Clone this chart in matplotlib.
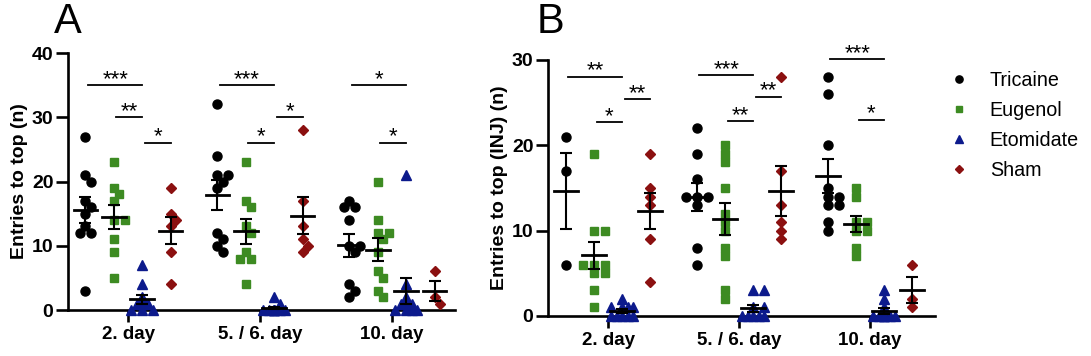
import numpy as np
import matplotlib
matplotlib.use("Agg")
from matplotlib import pyplot as plt

plt.rcParams['font.family'] = ['Liberation Sans', 'DejaVu Sans']

days = ["2. day", "5. / 6. day", "10. day"]
groups = ["Tricaine", "Eugenol", "Etomidate", "Sham"]
colors = ["black", "#3d8b22", "#0c1a8c", "#8b1010"]
markers = ["o", "s", "^", "D"]
msizes = [6.5, 5.8, 7.0, 4.6]

# panel A: entries to top (n), [day][group]
dataA = [
    [[27, 21, 20, 17, 16, 15, 13, 12, 12, 3],
     [23, 19, 18, 17, 14, 14, 11, 9, 5],
     [7, 4, 2, 1, 1, 1, 1, 0, 0, 0],
     [19, 15, 14, 13, 9, 4]],
    [[32, 24, 21, 21, 20, 19, 12, 11, 10, 9],
     [23, 17, 16, 13, 12, 9, 8, 8, 4],
     [2, 1, 0, 0, 0, 0, 0, 0, 0, 0],
     [28, 17, 13, 11, 10, 9]],
    [[17, 16, 16, 14, 10, 10, 9, 4, 3, 2],
     [20, 14, 12, 12, 11, 9, 6, 5, 3, 2],
     [21, 4, 2, 1, 1, 1, 0, 0, 0, 0],
     [6, 2, 1]],
]
# panel B: entries to top (INJ) (n)
dataB = [
    [[21, 17, 6],
     [19, 10, 10, 6, 6, 6, 5, 5, 3, 1],
     [2, 1, 1, 1, 1, 0, 0, 0, 0, 0],
     [19, 15, 14, 13, 9, 4]],
    [[22, 19, 16, 14, 14, 14, 13, 8, 6],
     [20, 19, 18, 15, 12, 11, 10, 8, 7, 3, 2],
     [3, 3, 1, 1, 0, 0, 0, 0, 0],
     [28, 17, 13, 11, 10, 9]],
    [[28, 26, 20, 15, 14, 14, 13, 13, 11, 10],
     [15, 14, 11, 11, 10, 10, 8, 7],
     [3, 2, 1, 0, 0, 0, 0, 0, 0, 0],
     [6, 2, 1]],
]

# significance: (day, group_from, group_to, y, label)
sigA = [(0, 0, 2, 35, "***"), (0, 1, 2, 30, "**"), (0, 2, 3, 26, "*"),
        (1, 0, 2, 35, "***"), (1, 2, 3, 30, "*"), (1, 1, 2, 26, "*"),
        (2, 0, 2, 35, "*"), (2, 1, 2, 26, "*")]
sigB = [(0, 0, 2, 28, "**"), (0, 1, 2, 22.7, "*"), (0, 2, 3, 25.4, "**"),
        (1, 0, 2, 28.2, "***"), (1, 1, 2, 22.8, "**"), (1, 2, 3, 25.7, "**"),
        (2, 0, 2, 30.1, "***"), (2, 1, 2, 23, "*")]

d = 0.215


def swarm(vals, pxx, pxy, step=5.5, mind=7.0):
    vals = np.asarray(vals, float)
    order = np.argsort(-vals, kind="stable")
    offs = np.zeros(len(vals))
    placed = []

    def mindist(c, v):
        if not placed:
            return 1e9
        return min(np.hypot(c - px, (v - pv) * pxy) for px, pv in placed)

    for i in order:
        cands = [0.0, step, -step, 2 * step, -2 * step]
        ok = None
        for c in cands:
            if mindist(c, vals[i]) >= mind:
                ok = c
                break
        if ok is None:
            ok = max(cands[:3], key=lambda c: mindist(c, vals[i]))
        placed.append((ok, vals[i]))
        offs[i] = ok / pxx
    return offs


def panel(ax, data, sig, ymax, ystep, ylabel, pxx, pxy, xlim):
    for di, day in enumerate(data):
        for gi, vals in enumerate(day):
            xc = di + (gi - 1.5) * d
            xs = xc + swarm(vals, pxx, pxy)
            ax.plot(xs, vals, linestyle="none", marker=markers[gi], ms=msizes[gi],
                    color=colors[gi], mec=colors[gi], clip_on=False, zorder=3)
            m = np.mean(vals)
            se = np.std(vals, ddof=1) / np.sqrt(len(vals))
            ax.plot([xc - 0.09, xc + 0.09], [m, m], color="black", lw=2, zorder=4)
            ax.errorbar(xc, m, yerr=se, color="black", lw=1.5, capsize=4.5,
                        capthick=1.5, zorder=4)
    for di, g1, g2, y, lab in sig:
        x1 = di + (g1 - 1.5) * d + 0.02
        x2 = di + (g2 - 1.5) * d
        ax.plot([x1, x2], [y, y], color="black", lw=1.3, clip_on=False)
        ax.annotate(lab, ((x1 + x2) / 2, y), xytext=(0, 0.3), textcoords="offset points",
                    ha="center", va="baseline", fontsize=16, annotation_clip=False)
    ax.set_xlim(*xlim)
    ax.set_ylim(0, ymax)
    ax.set_yticks(np.arange(0, ymax + 1, ystep))
    ax.set_xticks(range(3))
    ax.set_xticklabels(days)
    for s in ["top", "right"]:
        ax.spines[s].set_visible(False)
    for s in ["left", "bottom"]:
        ax.spines[s].set_linewidth(1.9)
    ax.tick_params(width=1.9, length=8.5, labelsize=14, pad=2)
    ax.tick_params(axis="x", labelsize=13.5, pad=3)
    for t in ax.get_xticklabels() + ax.get_yticklabels():
        t.set_fontweight("bold")
    ax.set_ylabel(ylabel, fontsize=14, fontweight="bold", labelpad=3)


fig = plt.figure(figsize=(10.91, 3.56), dpi=100)
axA = fig.add_axes([0.0623, 0.1292, 0.3547, 0.7219])
axB = fig.add_axes([0.5023, 0.1124, 0.3547, 0.7191])

panel(axA, dataA, sigA, 40, 10, "Entries to top (n)", 132, 6.43, (-0.455, 2.477))
panel(axB, dataB, sigB, 30, 10, "Entries to top (INJ) (n)", 131, 8.53, (-0.458, 2.496))

fig.text(0.049, 0.995, "A", fontsize=30, va="top", ha="left")
fig.text(0.492, 0.995, "B", fontsize=30, va="top", ha="left")

handles = [plt.Line2D([], [], linestyle="none", marker=markers[i], ms=msizes[i] * 0.8,
                      color=colors[i]) for i in range(4)]
fig.legend(handles, groups, loc="upper left", bbox_to_anchor=(0.872, 0.80),
           frameon=False, fontsize=14.2, handletextpad=1.15, labelspacing=0.55,
           handlelength=0.8, borderaxespad=0, borderpad=0)

fig.savefig("out.png", dpi=100)
